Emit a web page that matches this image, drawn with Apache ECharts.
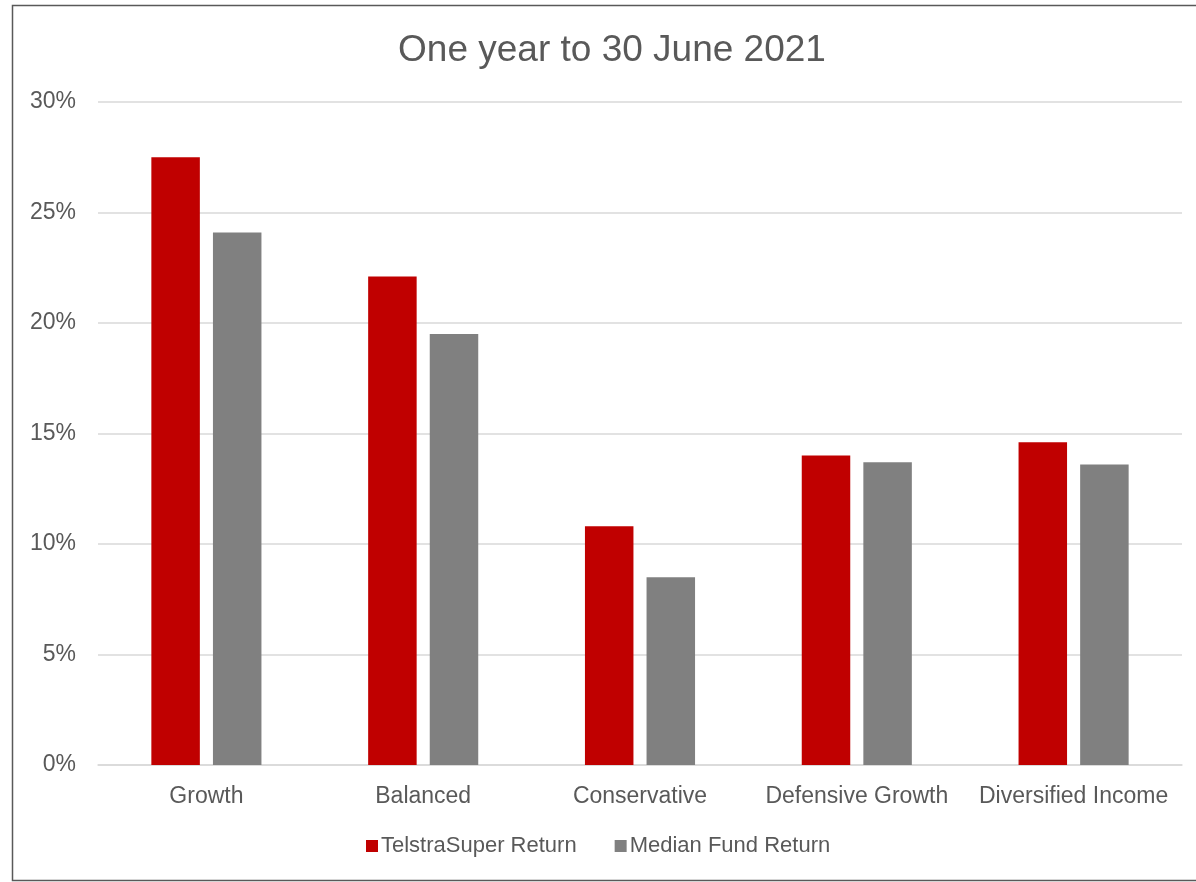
<!DOCTYPE html>
<html>
<head>
<meta charset="utf-8">
<style>
  html, body { margin: 0; padding: 0; background: #ffffff; }
  #chart { width: 1196px; height: 882px; }
</style>
<script src="https://cdn.jsdelivr.net/npm/echarts@6/dist/echarts.min.js"></script>
</head>
<body>
<div id="chart"></div>
<script>
// Fund options shown along the category axis
const categories = ['Growth', 'Balanced', 'Conservative', 'Defensive Growth', 'Diversified Income'];
// One-year returns to 30 June 2021, in percent
const telstraSuperReturn = [27.5, 22.1, 10.8, 14.0, 14.6];
const medianFundReturn = [24.1, 19.5, 8.5, 13.7, 13.6];
const seriesNames = ['TelstraSuper Return', 'Median Fund Return'];
const titleText = 'One year to 30 June 2021';

const textColor = '#595959';
const fontFamily = 'Arial, "Liberation Sans", sans-serif';

const chart = echarts.init(document.getElementById('chart'));
chart.setOption({
  backgroundColor: '#ffffff',
  animation: false,
  graphic: [{
    type: 'rect',
    shape: { x: 12.5, y: 5.5, width: 1210, height: 875 },
    style: { fill: 'none', stroke: '#595959', lineWidth: 1.5 },
    silent: true,
    z: -1
  }],
  title: {
    text: titleText,
    left: 607,
    textAlign: 'center',
    top: 27,
    textStyle: { color: textColor, fontSize: 37, fontWeight: 'normal', fontFamily: fontFamily }
  },
  legend: {
    data: seriesNames,
    bottom: 20,
    left: 361,
    itemWidth: 12,
    itemHeight: 12,
    itemGap: 38,
    icon: 'rect',
    textStyle: { color: textColor, fontSize: 22, fontFamily: fontFamily, padding: [0, 0, 0, -2] }
  },
  grid: { left: 98, right: 14, top: 102, bottom: 117, containLabel: false },
  xAxis: {
    type: 'category',
    data: categories,
    axisLine: { show: true, lineStyle: { color: '#d9d9d9', width: 1.5 } },
    axisTick: { show: false },
    axisLabel: { color: textColor, fontSize: 23, fontFamily: fontFamily, margin: 20, interval: 0 }
  },
  yAxis: {
    type: 'value',
    min: 0,
    max: 30,
    interval: 5,
    axisLine: { show: false },
    axisTick: { show: false },
    splitLine: { lineStyle: { color: '#d9d9d9', width: 1.5 } },
    axisLabel: { color: textColor, fontSize: 23, fontFamily: fontFamily, margin: 22, formatter: '{value}%' }
  },
  series: [
    {
      name: seriesNames[0],
      type: 'bar',
      data: telstraSuperReturn,
      barWidth: 48.5,
      barGap: '27%',
      itemStyle: { color: '#C00000' }
    },
    {
      name: seriesNames[1],
      type: 'bar',
      data: medianFundReturn,
      barWidth: 48.5,
      barGap: '27%',
      itemStyle: { color: '#808080' }
    }
  ]
});
</script>
</body>
</html>
